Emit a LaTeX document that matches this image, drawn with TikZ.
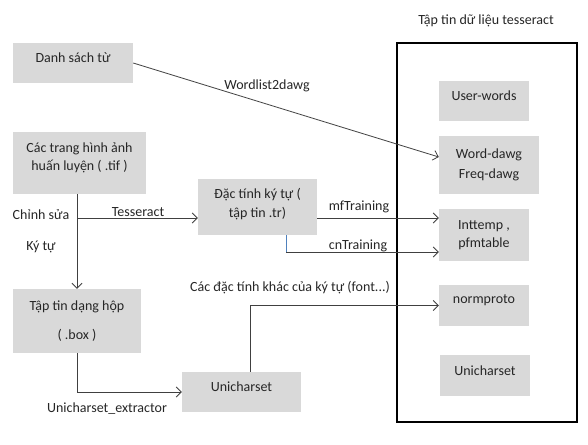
\documentclass[tikz,border=0pt]{standalone}
\usepackage{fontspec}
\setmainfont{Carlito}
\usetikzlibrary{arrows.meta, positioning}
\definecolor{boxgray}{HTML}{D9D9D9}
\definecolor{cnblue}{HTML}{4F81BD}

\begin{document}
\begin{tikzpicture}[x=1pt, y=-1pt,
  every node/.style={text=black!85, font=\fontsize{14}{16.5}\selectfont},
  every text node part/.style={align=center},
  boxsty/.style={fill=boxgray, inner sep=0pt},
  lbl/.style={inner sep=0pt},
  conn/.style={draw=black!75, line width=0.8pt},
  arr/.style={conn, -{Straight Barb[length=5pt, width=10pt]}},
  filesty/.style={draw=black, line width=2.6pt}
]
\useasboundingbox (0,0) rectangle (588,444);

%left column
  \node[boxsty, minimum width=120, minimum height=40, text depth=10pt] (words) at (73,63) {Danh sách từ};
  \node[boxsty, minimum width=133, minimum height=62, text depth=13pt] (tif) at (79.5,163) {Các trang hình ảnh\\[1pt] huấn luyện ( .tif )};
  \node[boxsty, minimum width=128, minimum height=64] (box) at (77,321) {Tập tin dạng hộp\\[12pt] ( .box )};
  \node[boxsty, minimum width=119, minimum height=56, text depth=8pt] (tr) at (257.5,207) {Đặc tính ký tự (\\[2pt] tập tin .tr)};
  \node[boxsty, minimum width=119, minimum height=40, text depth=10pt] (uniL) at (241.5,392) {Unicharset};

%tesseract data files
  \draw[filesty] (397,43) rectangle (577,422);
  \node[lbl] (data) at (486,21) {Tập tin dữ liệu tesseract};
  \node[boxsty, minimum width=90, minimum height=40, text depth=10pt] (user) at (484,101) {User-words};
  \node[boxsty, minimum width=100, minimum height=58] (dawg) at (489,165) {Word-dawg\\[4pt] Freq-dawg};
  \node[boxsty, minimum width=90, minimum height=52] (itmp) at (484,235) {Inttemp ,\\[1pt] pfmtable};
  \node[boxsty, minimum width=90, minimum height=41, text depth=13pt] (norm) at (484,305.5) {normproto};
  \node[boxsty, minimum width=90, minimum height=41, text depth=9pt] (uniR) at (485,375.5) {Unicharset};

%connectors
  \coordinate (split) at (77,218);
  \draw[arr] (words.east) -- ([yshift=8pt]dawg.west);
  \draw[arr] (box.north |- tif.south) -- (box.north);
  \draw[arr] (split) -- (split -| tr.west);
  \draw[arr] (split -| tr.east) -- (split -| itmp.west);
  \draw[cnblue, line width=0.6pt] (286,235) -- (286,252) coordinate (cn);
  \draw[arr] (cn) -- (cn -| itmp.west);
  \draw[arr] (box.south) |- (uniL.west);
  \draw[arr] ([xshift=8.5pt]uniL.north) |- (norm.west);

%labels
  \node[lbl] (wl) at (267,86) {Wordlist2dawg};
  \node[lbl] (edit) at (41,215) {Chỉnh sửa};
  \node[lbl] (chr) at (41,247) {Ký tự};
  \node[lbl] (tess) at (138,212) {Tesseract};
  \node[lbl] (mf) at (359,207) {mfTraining};
  \node[lbl] (cnl) at (358,246) {cnTraining};
  \node[lbl] (other) at (290,288) {Các đặc tính khác của ký tự (font...)};
  \node[lbl] (ext) at (107,409) {Unicharset\_extractor};

\end{tikzpicture}
\end{document}
